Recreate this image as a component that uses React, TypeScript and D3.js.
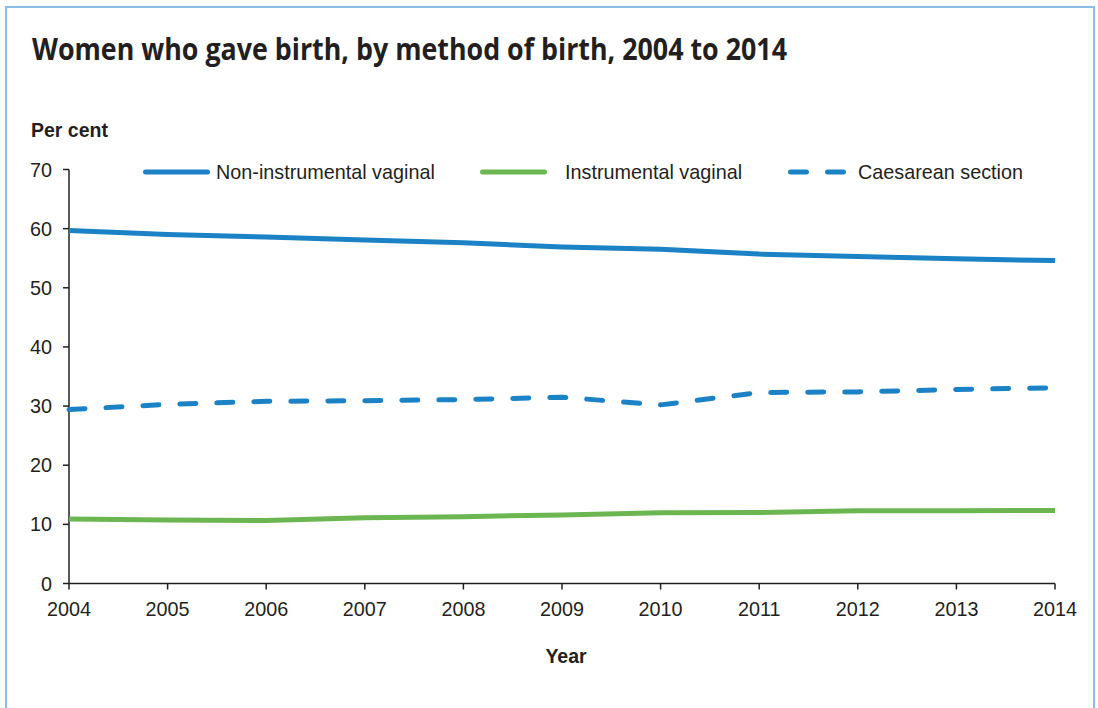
import React from "react";
import * as d3 from "d3";

const years = [2004, 2005, 2006, 2007, 2008, 2009, 2010, 2011, 2012, 2013, 2014];
const nonInstrumental = [59.7, 59.0, 58.6, 58.1, 57.6, 56.9, 56.5, 55.7, 55.3, 54.9, 54.6];
const instrumental = [10.9, 10.75, 10.65, 11.1, 11.3, 11.6, 11.95, 12.0, 12.3, 12.3, 12.35];
const caesarean = [29.4, 30.3, 30.8, 30.9, 31.1, 31.5, 30.2, 32.3, 32.4, 32.8, 33.1];
const yTicks = [0, 10, 20, 30, 40, 50, 60, 70];

const seriesNames = ["Non-instrumental vaginal", "Instrumental vaginal", "Caesarean section"];

const BLUE = "#1b82c5";
const GREEN = "#6cb652";
const TEXT = "#231f20";

export default function App() {
  const x = d3.scaleLinear().domain([2004, 2014]).range([69, 1055]);
  const y = d3.scaleLinear().domain([0, 70]).range([583.5, 169.5]);
  const line = d3
    .line<number>()
    .x((_, i) => x(years[i]))
    .y((d) => y(d));

  const series = [
    { name: seriesNames[0], values: nonInstrumental, color: BLUE, dash: undefined, lx: [143, 210], tx: 216 },
    { name: seriesNames[1], values: instrumental, color: GREEN, dash: undefined, lx: [480, 547], tx: 565 },
    { name: seriesNames[2], values: caesarean, color: BLUE, dash: "16 21", lx: [788, 846], tx: 858 },
  ];

  const font = "Arial, 'Liberation Sans', sans-serif";
  const fs = 19.8;

  return (
    <svg
      width={1098}
      height={708}
      style={{ position: "absolute", left: 0, top: 0, background: "#fff" }}
    >
      <rect x={6} y={7} width={1088} height={720} fill="#fff" stroke="#8bbde6" strokeWidth={2} />
      <text
        x={32}
        y={60}
        fontFamily="'Open Sans', 'Noto Sans', sans-serif"
        fontWeight="bold"
        fontSize={29.5}
        fill={TEXT}
        textLength={755}
        lengthAdjust="spacingAndGlyphs"
      >
        Women who gave birth, by method of birth, 2004 to 2014
      </text>
      <text x={31} y={137} fontFamily={font} fontWeight="bold" fontSize={19.5} fill={TEXT}>
        Per cent
      </text>

      {/* y axis */}
      <line x1={69} x2={69} y1={y(70)} y2={y(0)} stroke={TEXT} strokeWidth={1.5} />
      {yTicks.map((t) => (
        <g key={t}>
          <line x1={63} x2={69} y1={y(t)} y2={y(t)} stroke={TEXT} strokeWidth={1.5} />
          <text
            x={52}
            y={y(t)}
            textAnchor="end"
            dominantBaseline="central"
            fontFamily={font}
            fontSize={fs}
            fill={TEXT}
          >
            {t}
          </text>
        </g>
      ))}

      {/* x axis */}
      <line x1={x(2004)} x2={x(2014)} y1={y(0)} y2={y(0)} stroke={TEXT} strokeWidth={1.5} />
      {years.map((yr) => (
        <g key={yr}>
          <line x1={x(yr)} x2={x(yr)} y1={y(0)} y2={y(0) + 6} stroke={TEXT} strokeWidth={1.5} />
          <text x={x(yr)} y={615.5} textAnchor="middle" fontFamily={font} fontSize={fs} fill={TEXT}>
            {yr}
          </text>
        </g>
      ))}
      <text x={566} y={663} textAnchor="middle" fontFamily={font} fontWeight="bold" fontSize={19.5} fill={TEXT}>
        Year
      </text>

      {/* series */}
      {series.map((s) => (
        <path
          key={s.name}
          d={line(s.values) || ""}
          fill="none"
          stroke={s.color}
          strokeWidth={5}
          strokeLinecap={s.dash ? "round" : "butt"}
          strokeLinejoin="round"
          strokeDasharray={s.dash}
        />
      ))}

      {/* legend */}
      {series.map((s) => (
        <g key={"lg" + s.name}>
          <line
            x1={s.lx[0] + 2.5}
            x2={s.lx[1] - 2.5}
            y1={172}
            y2={172}
            stroke={s.color}
            strokeWidth={5}
            strokeLinecap="round"
            strokeDasharray={s.dash ? "16 21" : undefined}
          />
          <text x={s.tx} y={172} dominantBaseline="central" fontFamily={font} fontSize={fs} fill={TEXT}>
            {s.name}
          </text>
        </g>
      ))}
    </svg>
  );
}
